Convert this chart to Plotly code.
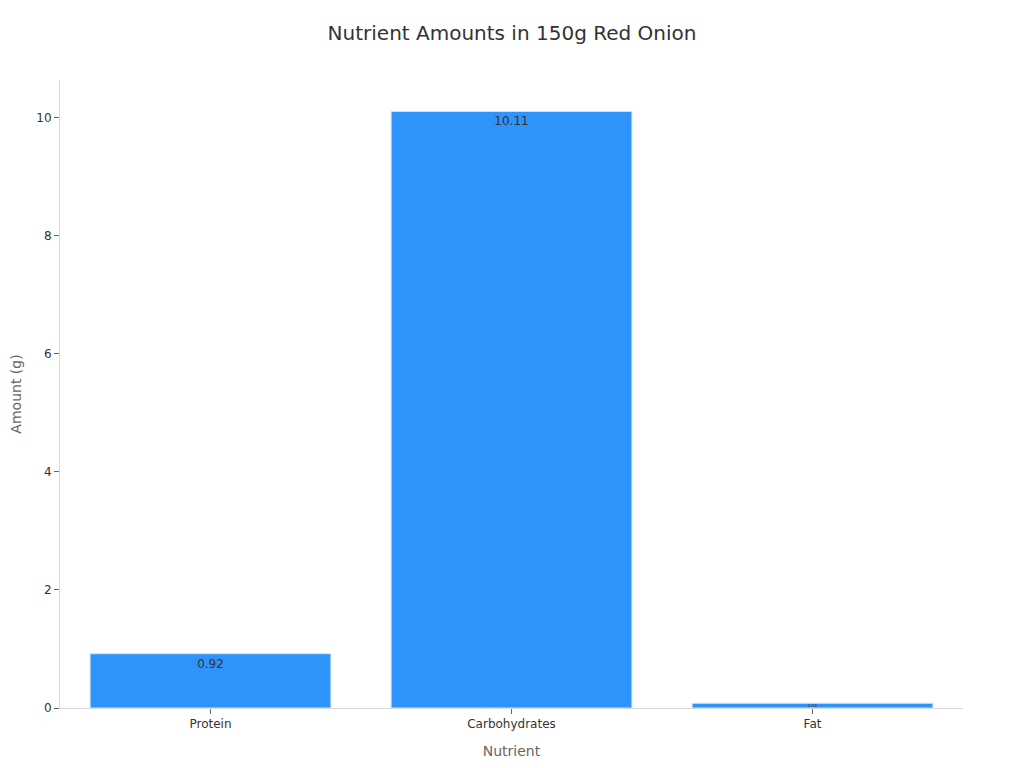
import plotly.graph_objects as go

nutrients = ["Protein", "Carbohydrates", "Fat"]
amounts = [0.92, 10.11, 0.08]
labels = ["0.92", "10.11", "0.08"]

fig = go.Figure(go.Bar(
    x=nutrients,
    y=amounts,
    text=labels,
    textposition="inside",
    insidetextanchor="end",
    textfont=dict(color="#333333", size=12),
    marker=dict(color="#2E93FA", line=dict(color="#cfe4fb", width=1)),
    hoverinfo="skip",
))

fig.update_layout(
    width=1024, height=768,
    font=dict(family="DejaVu Sans", size=12, color="#333333"),
    title=dict(text="Nutrient Amounts in 150g Red Onion", x=0.5 - 8 / 1024, xanchor="center",
               y=1 - 25 / 768, yanchor="middle", font=dict(size=20, color="#333333")),
    margin=dict(l=52, r=69, t=72, b=68),
    plot_bgcolor="white", paper_bgcolor="white",
    bargap=0.2,
    showlegend=False,
    xaxis=dict(title=dict(text="Nutrient", font=dict(size=14, color="#666666"), standoff=15),
               showline=True, linecolor="#d9d9d9", ticks="outside", tickcolor="#666666",
               ticklen=5, showgrid=False, automargin=False),
    yaxis=dict(title=dict(text="Amount (g)", font=dict(size=14, color="#666666"), standoff=12),
               showline=True, linecolor="#d9d9d9", ticks="outside", tickcolor="#666666",
               ticklen=5, showgrid=False, zeroline=False, dtick=2, automargin=False),
)

fig.write_html("out.html")
